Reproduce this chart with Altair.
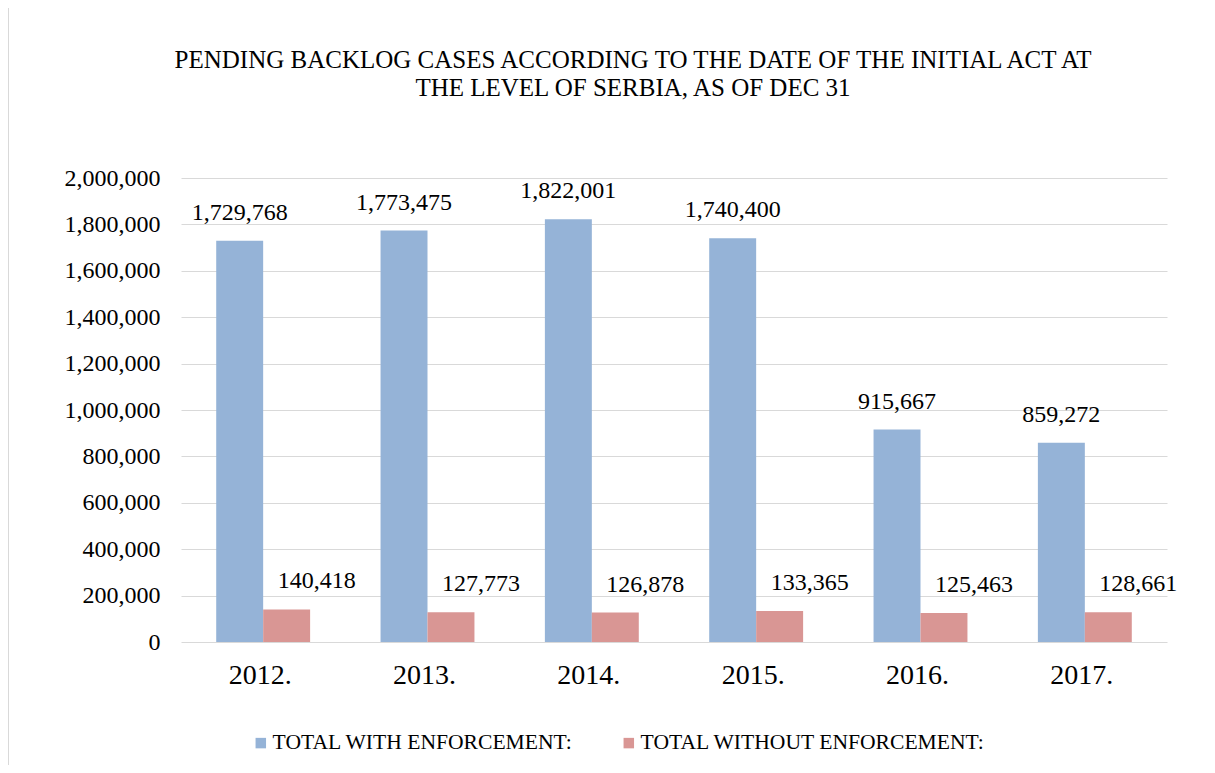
import altair as alt
import pandas as pd

years = ["2012.", "2013.", "2014.", "2015.", "2016.", "2017."]
with_enf = [1729768, 1773475, 1822001, 1740400, 915667, 859272]
without_enf = [140418, 127773, 126878, 133365, 125463, 128661]
series = ["TOTAL WITH ENFORCEMENT:", "TOTAL WITHOUT ENFORCEMENT:"]
colors = ["#95B3D7", "#D99694"]
y_ticks = [0, 200000, 400000, 600000, 800000, 1000000, 1200000, 1400000, 1600000, 1800000, 2000000]

rows = []
for i, y in enumerate(years):
    rows.append({"year": y, "series": series[0], "value": with_enf[i]})
    rows.append({"year": y, "series": series[1], "value": without_enf[i]})
df = pd.DataFrame(rows)

FONT = "'Times New Roman', 'Liberation Serif', serif"

x_enc = alt.X("year:N", sort=years,
              scale=alt.Scale(paddingInner=0, paddingOuter=0),
              axis=alt.Axis(title=None, labelAngle=0, labelFontSize=28, labelFont=FONT,
                            labelColor="#000000", domain=False, ticks=False, tickSize=0,
                            labelPadding=19, labelOffset=-3, grid=False))
xo_enc = alt.XOffset("series:N", sort=series,
                     scale=alt.Scale(paddingOuter=0.75, paddingInner=0))
y_enc = alt.Y("value:Q", scale=alt.Scale(domain=[0, 2000000]),
              axis=alt.Axis(title=None, values=y_ticks, format=",.0f", labelFontSize=24,
                            labelFont=FONT, labelColor="#000000", domain=False, ticks=False,
                            tickSize=0, labelPadding=21, grid=True, gridColor="#D9D9D9",
                            gridWidth=1))

base = alt.Chart(df)

bars = base.mark_bar().encode(
    x=x_enc, xOffset=xo_enc, y=y_enc,
    color=alt.Color("series:N", sort=series,
                    scale=alt.Scale(domain=series, range=colors),
                    legend=alt.Legend(title=None, orient="none", legendX=69, legendY=554,
                                      direction="horizontal", symbolType="square",
                                      symbolSize=110, symbolStrokeWidth=0,
                                      labelFont=FONT, labelFontSize=21.6,
                                      labelColor="#000000", labelOffset=1,
                                      columnPadding=45, labelLimit=500)),
)

labels_blue = base.transform_filter(alt.datum.series == series[0]).mark_text(
    font=FONT, fontSize=24, baseline="bottom", dy=-16, color="#000000"
).encode(x=x_enc, xOffset=xo_enc, y=y_enc, text=alt.Text("value:Q", format=",.0f"))

labels_red = base.transform_filter(alt.datum.series == series[1]).mark_text(
    font=FONT, fontSize=24, baseline="bottom", dy=-16, dx=30, color="#000000"
).encode(x=x_enc, xOffset=xo_enc, y=y_enc, text=alt.Text("value:Q", format=",.0f"))

border = alt.Chart(alt.Data(values=[{}])).mark_rect(
    fillOpacity=0, stroke="#D9D9D9", strokeWidth=1
).encode(x=alt.value(-172.5), x2=alt.value(1100), y=alt.value(-170.5), y2=alt.value(800))

chart = alt.layer(border, bars, labels_blue, labels_red).properties(
    width=986, height=464,
    autosize="none",
    padding={"left": 173, "top": 170, "right": 40, "bottom": 123},
    background="#FFFFFF",
    title=alt.TitleParams(
        ["PENDING BACKLOG CASES ACCORDING TO THE DATE OF THE INITIAL ACT AT",
         "THE LEVEL OF SERBIA, AS OF DEC 31"],
        font=FONT, fontSize=25, fontWeight="normal", color="#000000",
        lineHeight=28, anchor="middle", dx=-41, offset=0, dy=94),
).configure_view(stroke=None)

chart.save("out.html", embed_options={"renderer": "svg", "actions": False})
